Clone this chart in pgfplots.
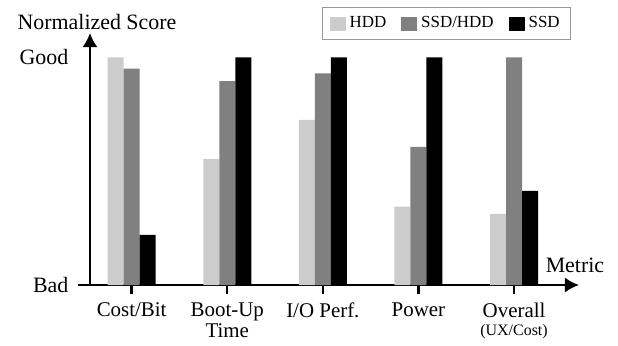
\documentclass[border=0pt]{standalone}
\usepackage{pgfplots}
\pgfplotsset{compat=1.18}
\usepackage{fontspec}
\setmainfont{Liberation Serif}
\setsansfont{Liberation Serif}
\usetikzlibrary{arrows.meta}
\definecolor{hddc}{HTML}{CCCCCC}
\definecolor{mixc}{HTML}{808080}
\definecolor{ssdc}{HTML}{000000}
\begin{document}
\begin{tikzpicture}[font=\rmfamily]
\begin{axis}[
  scale only axis,
  width=244.5bp, height=126bp,
  xmin=-0.436, xmax=4.679,
  ymin=0, ymax=1.107,
  clip=false,
  axis lines=left,
  axis line style={line width=1.1bp, -{Latex[length=7bp,width=7.5bp]}},
  ybar=0pt, bar width=8bp,
  xtick={0,1,2,3,4},
  xticklabels={Cost/Bit, Boot-Up\\Time, I/O Perf., Power, Overall\\{\fontsize{8}{8}\selectfont (UX/Cost)}},
  xticklabel style={align=center, font=\rmfamily\fontsize{10.5}{9}\selectfont, yshift=-1bp},
  tick align=outside,
  major tick length=4.5bp,
  x tick style={line width=1.2bp, black},
  ytick={0,1},
  yticklabels={Bad,Good},
  y tick style={draw=none},
  yticklabel style={font=\rmfamily\fontsize{11}{12}\selectfont, xshift=-2.8bp},
  legend style={at={(axis description cs:0.4744,1.1032)}, anchor=north west,
    draw=gray!80, line width=0.6bp, font=\rmfamily\fontsize{8.5}{9}\selectfont,
    inner xsep=3.5bp, inner ysep=2.5bp,
    /tikz/every even column/.append style={column sep=5.5bp}},
  legend columns=3,
  legend image code/.code={\fill[#1] (0bp,-3.5bp) rectangle (8bp,3.5bp);},
]
\addplot[fill=hddc, draw=none] coordinates {(0,1.0) (1,0.553) (2,0.725) (3,0.344) (4,0.312)};
\addplot[fill=mixc, draw=none] coordinates {(0,0.95) (1,0.896) (2,0.93) (3,0.607) (4,1.0)};
\addplot[fill=ssdc, draw=none] coordinates {(0,0.22) (1,1.0) (2,1.0) (3,1.0) (4,0.414)};
\legend{HDD, SSD/HDD, SSD}
\draw[line width=1.1bp] (axis cs:-0.5617,0) -- (axis cs:-0.436,0);
\node[font=\rmfamily\fontsize{11}{12}\selectfont] at (axis description cs:0.0143,1.0437) {Normalized Score};
\node[font=\rmfamily\fontsize{11}{12}\selectfont] at (axis description cs:0.9918,0.0794) {Metric};
\path (axis description cs:-0.184,-0.1984) rectangle (axis description cs:1.0798,1.131);
\end{axis}
\end{tikzpicture}
\end{document}
